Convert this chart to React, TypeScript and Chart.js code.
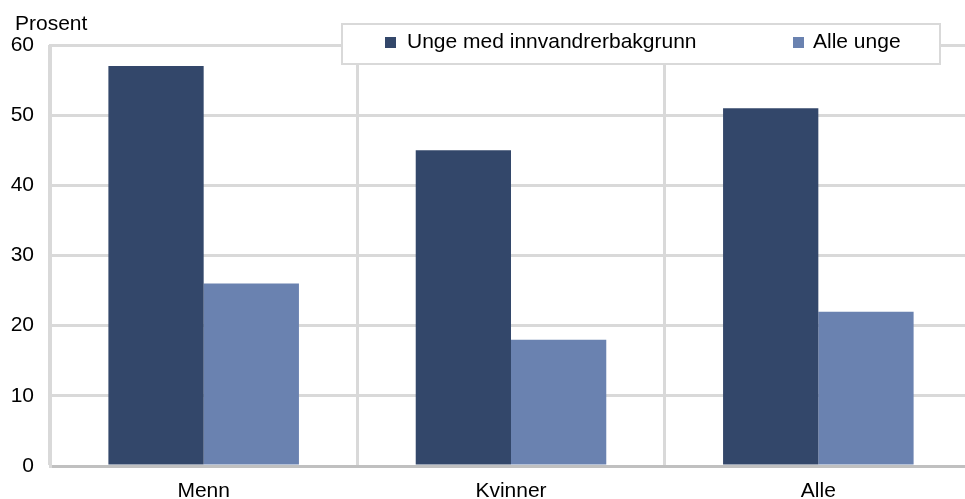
import React, { useEffect, useRef } from "react";
import { Chart, registerables } from "chart.js";

Chart.register(...registerables);

const categories = ["Menn", "Kvinner", "Alle"];
const seriesNames = ["Unge med innvandrerbakgrunn", "Alle unge"];
const innvandrerValues = [57, 45, 51];
const alleValues = [26, 18, 22];
const yTicks = [0, 10, 20, 30, 40, 50, 60];
const yAxisTitle = "Prosent";

const DARK = "#33476a";
const LIGHT = "#6a82b0";
const GRID = "#d9d9d9";
const AXIS = "#c0c0c0";
const FONT = "'Liberation Sans', Arial, sans-serif";
const FONT_SIZE = 21;

export default function App() {
  const ref = useRef<HTMLCanvasElement | null>(null);

  useEffect(() => {
    const canvas = ref.current;
    if (!canvas) return;

    const overlay = {
      id: "overlay",
      afterDraw(chart: any) {
        const ctx = chart.ctx;
        ctx.save();
        // axis title
        ctx.fillStyle = "#000";
        ctx.font = `${FONT_SIZE}px ${FONT}`;
        ctx.textAlign = "left";
        ctx.textBaseline = "alphabetic";
        ctx.fillText(yAxisTitle, 15, 30);
        // legend box
        ctx.fillStyle = "#fff";
        ctx.fillRect(342, 24, 598, 40);
        ctx.strokeStyle = GRID;
        ctx.lineWidth = 2;
        ctx.strokeRect(342, 24, 598, 40);
        const items = chart.data.datasets.map((d: any, i: number) => ({
          label: d.label,
          color: d.backgroundColor,
          x: i === 0 ? 385 : 793,
          gap: i === 0 ? 22 : 20,
        }));
        for (const it of items) {
          ctx.fillStyle = it.color;
          ctx.fillRect(it.x, 37, 11, 11);
          ctx.fillStyle = "#000";
          ctx.fillText(it.label, it.x + it.gap, 48);
        }
        ctx.restore();
      },
    };

    const chart = new Chart(canvas, {
      type: "bar",
      data: {
        labels: categories,
        datasets: [
          {
            label: seriesNames[0],
            data: innvandrerValues,
            backgroundColor: DARK,
            categoryPercentage: 0.62,
            barPercentage: 1,
          },
          {
            label: seriesNames[1],
            data: alleValues,
            backgroundColor: LIGHT,
            categoryPercentage: 0.62,
            barPercentage: 1,
          },
        ],
      },
      options: {
        responsive: false,
        animation: false,
        layout: { padding: { left: 0, right: 0, top: 45, bottom: 0 } },
        plugins: {
          legend: { display: false },
          tooltip: { enabled: false },
          title: { display: false },
        },
        scales: {
          x: {
            grid: {
              offset: true,
              color: GRID,
              lineWidth: 3,
              drawTicks: false,
            },
            border: { display: true, color: AXIS, width: 3 },
            ticks: {
              color: "#000",
              font: { family: FONT, size: FONT_SIZE },
              padding: 13,
              maxRotation: 0,
            },
            afterFit(scale: any) {
              scale.height = 33;
            },
          },
          y: {
            min: 0,
            max: 60,
            afterBuildTicks(scale: any) {
              scale.ticks = yTicks.map((v) => ({ value: v }));
            },
            grid: {
              color: (c: any) => (c.tick && c.tick.value === 0 ? AXIS : GRID),
              lineWidth: 3,
              drawTicks: false,
            },
            border: { display: true, color: GRID, width: 3 },
            ticks: {
              color: "#000",
              font: { family: FONT, size: FONT_SIZE },
              padding: 16,
            },
            afterFit(scale: any) {
              scale.width = 50;
            },
          },
        },
      },
      plugins: [overlay],
    });

    return () => chart.destroy();
  }, []);

  return (
    <div
      style={{
        position: "absolute",
        left: 0,
        top: 0,
        width: 965,
        height: 499,
        overflow: "hidden",
        background: "#fff",
      }}
    >
      <canvas ref={ref} width={972} height={499} style={{ display: "block" }} />
    </div>
  );
}
